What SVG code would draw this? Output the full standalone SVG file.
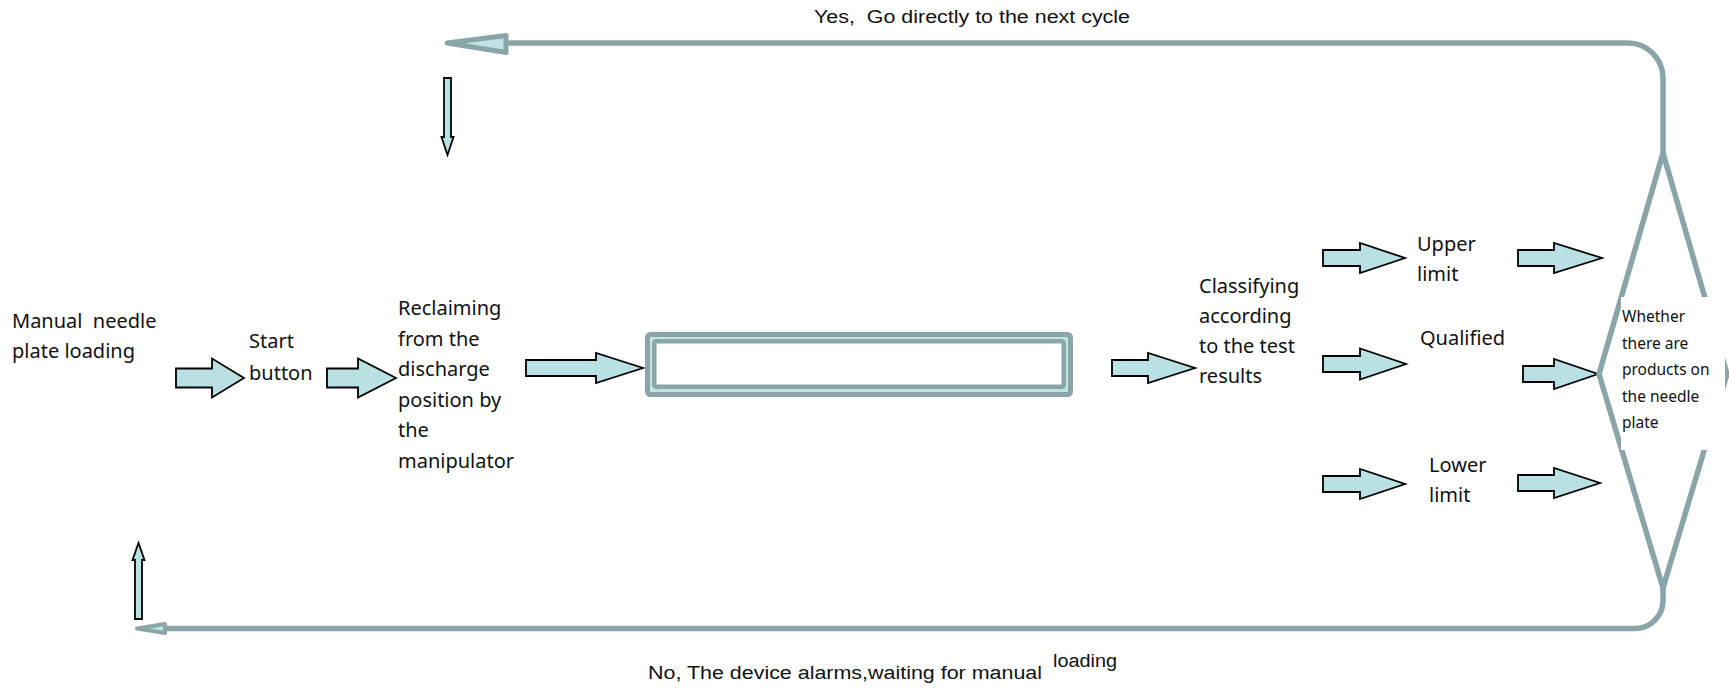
<svg xmlns="http://www.w3.org/2000/svg" width="1729" height="689" viewBox="0 0 1729 689">
<style>
text{white-space:pre}
.lbl{font-family:"Noto Sans","Liberation Sans",sans-serif;font-size:20px;fill:#111}
.sm{font-family:"Noto Sans","Liberation Sans",sans-serif;font-size:15.5px;fill:#111}
.nar{font-family:"Liberation Sans",Arial,sans-serif;font-size:18px;fill:#111}
.blk{fill:#b9e0e2;stroke:#000;stroke-width:1.8;stroke-linejoin:miter}
.flow{fill:none;stroke:#8aa5a8;stroke-width:5.5;stroke-linejoin:round}
.head{fill:#bfe2e4;stroke:#8aa5a8;stroke-linejoin:round}
</style>
<rect width="1729" height="689" fill="#fff"/>
<g id="connectors">
  <path class="flow" d="M505,43 H1628 A35,35 0 0 1 1663,78 V153"/>
  <polygon class="head" stroke-width="5" points="447,43 506,35.5 506,52.5"/>
  <path class="flow" d="M1663,588 V600 A28,28 0 0 1 1635,628.5 H164"/>
  <polygon class="head" stroke-width="4" points="137,628.5 165,624 165,633"/>
  <path class="blk" d="M444,78 H451 V137 H453.5 L447.5,155 L441.5,137 H444 Z"/>
  <path class="blk" d="M135,619 H142 V560 H144.5 L138.5,543 L132.5,560 H135 Z"/>
  <path class="blk" d="M176,368.5 H212 V358.5 L244,378 L212,397.5 V387.5 H176 Z"/>
  <path class="blk" d="M327,368.5 H358 V358.5 L396,378 L358,397.5 V387.5 H327 Z"/>
  <path class="blk" d="M526,360 H596 V353 L643,368 L596,383 V376 H526 Z"/>
  <path class="blk" d="M1112,360 H1148 V353 L1195,368 L1148,383 V376 H1112 Z"/>
  <path class="blk" d="M1323,250 H1360 V243 L1405,258 L1360,273 V266 H1323 Z"/>
  <path class="blk" d="M1323,356 H1360 V348.5 L1406,364 L1360,379.5 V372 H1323 Z"/>
  <path class="blk" d="M1323,476 H1360 V469 L1405,484 L1360,499 V492 H1323 Z"/>
  <path class="blk" d="M1518,250 H1554 V243 L1602,258 L1554,273 V266 H1518 Z"/>
  <path class="blk" d="M1523,366 H1554 V359 L1598,374 L1554,389 V382 H1523 Z"/>
  <path class="blk" d="M1518,475 H1554 V468 L1600,483 L1554,498 V491 H1518 Z"/>
</g>
<g id="decision">
  <polygon class="flow" points="1663,153 1599,374 1663,588 1727,374"/>
  <rect x="1621" y="297" width="104" height="153" fill="#fff"/>
  <text class="sm" x="1622" y="322">Whether</text>
  <text class="sm" x="1622" y="348.5">there are</text>
  <text class="sm" x="1622" y="375">products on</text>
  <text class="sm" x="1622" y="401.5">the needle</text>
  <text class="sm" x="1622" y="428">plate</text>
</g>
<g id="manual-loading">
  <text class="lbl" x="12" y="328">Manual  needle</text>
  <text class="lbl" x="12" y="358">plate loading</text>
</g>
<g id="start-button">
  <text class="lbl" x="249" y="348">Start</text>
  <text class="lbl" x="249" y="380">button</text>
</g>
<g id="reclaiming">
  <text class="lbl" x="398" y="315">Reclaiming</text>
  <text class="lbl" x="398" y="345.5">from the</text>
  <text class="lbl" x="398" y="376">discharge</text>
  <text class="lbl" x="398" y="406.5">position by</text>
  <text class="lbl" x="398" y="437">the</text>
  <text class="lbl" x="398" y="467.5">manipulator</text>
</g>
<g id="test-box">
  <rect x="647.5" y="334.5" width="423" height="60" rx="3" fill="#c2e3e5" stroke="#8aa5a8" stroke-width="5"/>
  <rect x="654.25" y="341.25" width="409.5" height="45.5" rx="2" fill="#fff" stroke="#8aa5a8" stroke-width="4.5"/>
</g>
<g id="classifying">
  <text class="lbl" x="1199" y="293">Classifying</text>
  <text class="lbl" x="1199" y="323">according</text>
  <text class="lbl" x="1199" y="353">to the test</text>
  <text class="lbl" x="1199" y="383">results</text>
</g>
<g id="upper-limit">
  <text class="lbl" x="1417" y="251">Upper</text>
  <text class="lbl" x="1417" y="281">limit</text>
</g>
<g id="qualified">
  <text class="lbl" x="1420" y="345">Qualified</text>
</g>
<g id="lower-limit">
  <text class="lbl" x="1429" y="472">Lower</text>
  <text class="lbl" x="1429" y="502">limit</text>
</g>
<g id="labels">
  <text class="nar" x="814" y="23" textLength="316" lengthAdjust="spacingAndGlyphs">Yes,  Go directly to the next cycle</text>
  <text class="nar" x="648" y="679" textLength="394" lengthAdjust="spacingAndGlyphs">No, The device alarms,waiting for manual</text>
  <text class="nar" x="1053" y="667" font-size="17" textLength="64" lengthAdjust="spacingAndGlyphs">loading</text>
</g>
</svg>
